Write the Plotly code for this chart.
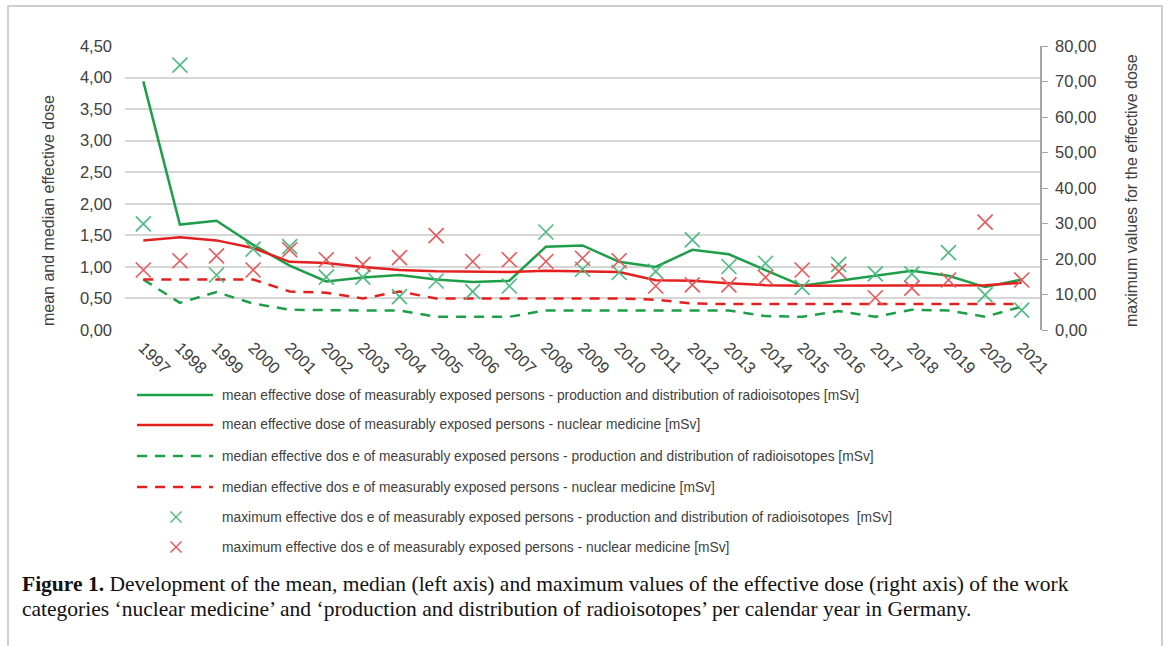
import plotly.graph_objects as go

years = [str(y) for y in range(1997, 2022)]

# mean effective dose [mSv] (left axis)
mean_prod = [3.94, 1.67, 1.73, 1.35, 1.02, 0.77, 0.83, 0.87, 0.80, 0.76, 0.78, 1.32, 1.34,
             1.08, 1.00, 1.27, 1.20, 0.95, 0.70, 0.78, 0.86, 0.94, 0.86, 0.68, 0.80]
mean_nm = [1.42, 1.47, 1.42, 1.30, 1.08, 1.06, 1.00, 0.95, 0.93, 0.92, 0.92, 0.94, 0.93,
           0.92, 0.79, 0.78, 0.74, 0.71, 0.70, 0.70, 0.70, 0.70, 0.70, 0.71, 0.75]

# median effective dose [mSv] (left axis)
median_prod = [0.80, 0.43, 0.60, 0.42, 0.32, 0.31, 0.31, 0.31, 0.21, 0.21, 0.21, 0.31, 0.31,
               0.31, 0.31, 0.31, 0.31, 0.22, 0.21, 0.30, 0.21, 0.32, 0.31, 0.21, 0.37]
median_nm = [0.80, 0.80, 0.80, 0.80, 0.61, 0.59, 0.50, 0.61, 0.50, 0.50, 0.50, 0.50, 0.50,
             0.50, 0.48, 0.42, 0.41, 0.41, 0.41, 0.41, 0.41, 0.41, 0.41, 0.41, 0.41]

# maximum effective dose [mSv] (right axis)
max_prod = [29.9, 74.6, 15.5, 22.8, 23.5, 14.9, 14.9, 9.4, 13.8, 10.8, 12.4, 27.6, 17.1,
            16.2, 16.5, 25.4, 17.9, 18.8, 12.0, 18.5, 15.8, 15.8, 21.8, 9.9, 5.6]
max_nm = [16.9, 19.5, 20.9, 16.9, 22.6, 19.8, 18.5, 20.4, 26.6, 19.3, 19.8, 19.3, 20.2,
          19.5, 12.4, 12.7, 12.7, 14.8, 16.9, 16.5, 9.1, 11.8, 14.1, 30.4, 14.1]

names = [
    "mean effective dose of measurably exposed persons - production and distribution of radioisotopes [mSv]",
    "mean effective dose of measurably exposed persons - nuclear medicine [mSv]",
    "median effective dos e of measurably exposed persons - production and distribution of radioisotopes [mSv]",
    "median effective dos e of measurably exposed persons - nuclear medicine [mSv]",
    "maximum effective dos e of measurably exposed persons - production and distribution of radioisotopes  [mSv]",
    "maximum effective dos e of measurably exposed persons - nuclear medicine [mSv]",
]

GREEN = "#1e9e48"
RED = "#e3201f"
GREEN_X = "#4cbb80"
RED_X = "#e8575a"
DASH = "10px,8px"

# plot-area geometry in pixels
W, H = 1168, 646
L, R, T, B = 125, 128, 46, 316
PW = W - L - R
PH = H - T - B


def px(x):
    return (x - L) / PW


def py(y):
    return (H - B - y) / PH


fig = go.Figure()
fig.add_trace(go.Scatter(x=years, y=mean_prod, mode="lines", name=names[0],
                         line=dict(color=GREEN, width=2.5)))
fig.add_trace(go.Scatter(x=years, y=mean_nm, mode="lines", name=names[1],
                         line=dict(color=RED, width=2.5)))
fig.add_trace(go.Scatter(x=years, y=median_prod, mode="lines", name=names[2],
                         line=dict(color=GREEN, width=2.5, dash=DASH)))
fig.add_trace(go.Scatter(x=years, y=median_nm, mode="lines", name=names[3],
                         line=dict(color=RED, width=2.5, dash=DASH)))
fig.add_trace(go.Scatter(x=years, y=max_prod, mode="markers", name=names[4], yaxis="y2",
                         marker=dict(symbol="x-thin-open", size=15, color=GREEN_X,
                                     line=dict(color=GREEN_X, width=1.6))))
fig.add_trace(go.Scatter(x=years, y=max_nm, mode="markers", name=names[5], yaxis="y2",
                         marker=dict(symbol="x-thin-open", size=15, color=RED_X,
                                     line=dict(color=RED_X, width=1.6))))

tick_font = dict(family="Liberation Sans, Arial, sans-serif", size=16.5, color="#404040")
title_font = dict(family="Liberation Sans, Arial, sans-serif", size=16, color="#404040")

shapes = []
annotations = []

# outer frame
shapes.append(dict(type="rect", xref="paper", yref="paper",
                   x0=px(8), x1=px(1162), y0=py(700), y1=py(6),
                   line=dict(color="#c0c0c0", width=1.5), layer="below"))

# legend block below the plot
leg_rows = [395, 425, 456, 487, 517, 547]
styles = [(GREEN, "solid", "line"), (RED, "solid", "line"),
          (GREEN, "dash", "line"), (RED, "dash", "line"),
          (GREEN_X, None, "x"), (RED_X, None, "x")]
for yrow, name, (col, dash, kind) in zip(leg_rows, names, styles):
    if kind == "line":
        shapes.append(dict(type="line", xref="paper", yref="paper",
                           x0=px(137), x1=px(213), y0=py(yrow), y1=py(yrow),
                           line=dict(color=col, width=2.5,
                                     dash=DASH if dash == "dash" else "solid")))
    else:
        cx, s = 176, 5.5
        for a, b in [(-s, -s), (-s, s)]:
            shapes.append(dict(type="line", xref="paper", yref="paper",
                               x0=px(cx + a), x1=px(cx - a), y0=py(yrow + b), y1=py(yrow - b),
                               line=dict(color=col, width=1.4)))
    annotations.append(dict(text=name, xref="paper", yref="paper",
                            x=px(220), y=py(yrow), xanchor="left", yanchor="middle",
                            showarrow=False,
                            font=dict(family="Liberation Sans, Arial, sans-serif",
                                      size=13.8, color="#404040")))

# axis titles
annotations.append(dict(text="mean and median effective dose", textangle=-90,
                        xref="paper", yref="paper", x=px(48), y=py(211),
                        xanchor="center", yanchor="middle", showarrow=False,
                        font=title_font))
annotations.append(dict(text="maximum values for the effective dose", textangle=-90,
                        xref="paper", yref="paper", x=px(1131), y=py(191),
                        xanchor="center", yanchor="middle", showarrow=False,
                        font=title_font))

# caption
cap_font = dict(family="Liberation Serif, Times New Roman, serif", size=21.5, color="#111111")
annotations.append(dict(
    text="<b>Figure 1.</b> Development of the mean, median (left axis) and maximum values of the "
         "effective dose (right axis) of the work",
    xref="paper", yref="paper", x=px(20), y=py(584), xanchor="left", yanchor="middle",
    showarrow=False, font=cap_font))
annotations.append(dict(
    text="categories ‘nuclear medicine’ and ‘production and distribution of radioisotopes’ "
         "per calendar year in Germany.",
    xref="paper", yref="paper", x=px(20), y=py(609), xanchor="left", yanchor="middle",
    showarrow=False, font=cap_font))

fig.update_layout(
    width=W, height=H,
    margin=dict(l=L, r=R, t=T, b=B),
    paper_bgcolor="white", plot_bgcolor="white",
    separators=",.",
    showlegend=False,
    xaxis=dict(type="category", range=[-0.5, 24.5], tickangle=45, showgrid=False,
               showline=False, ticks="", tickfont=tick_font, ticklabelstandoff=4),
    yaxis=dict(range=[0, 4.5], dtick=0.5, tickformat=".2f", showgrid=True,
               gridcolor="#d6d6d6", gridwidth=2, zeroline=False, showline=False,
               ticks="", tickfont=tick_font, ticklabelstandoff=12),
    yaxis2=dict(range=[0, 80], dtick=10, tickformat=".2f", overlaying="y", side="right",
                showgrid=False, zeroline=False, showline=True, linecolor="#a6a6a6",
                linewidth=1.5, ticks="outside", ticklen=6, tickcolor="#a6a6a6",
                tickfont=tick_font, ticklabelstandoff=4),
    shapes=shapes,
    annotations=annotations,
)

fig.write_html("out.html")
